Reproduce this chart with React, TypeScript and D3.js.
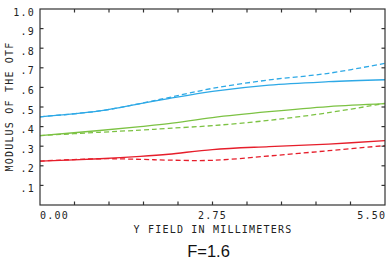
import { useEffect, useRef } from "react";
import * as d3 from "d3";

// field positions (mm) where curves were read
const fieldMm = [0, 0.95, 1.6, 2.05, 2.75, 3.65, 4.6, 5.5];

const blueSolid = [0.45, 0.48, 0.517, 0.543, 0.58, 0.612, 0.629, 0.639];
const blueDashed = [0.45, 0.48, 0.518, 0.548, 0.595, 0.638, 0.672, 0.723];
const greenSolid = [0.354, 0.38, 0.4, 0.415, 0.446, 0.476, 0.502, 0.517];
const greenDashed = [0.354, 0.371, 0.382, 0.391, 0.405, 0.432, 0.471, 0.519];
const redSolid = [0.224, 0.236, 0.248, 0.259, 0.283, 0.298, 0.311, 0.328];
const redDashed = [0.224, 0.236, 0.233, 0.229, 0.228, 0.25, 0.277, 0.303];

const yTickLabels = ["1.0", ".9", ".8", ".7", ".6", ".5", ".4", ".3", ".2", ".1"];
const yTickValues = [1.0, 0.9, 0.8, 0.7, 0.6, 0.5, 0.4, 0.3, 0.2, 0.1];
const xTickLabels = ["0.00", "2.75", "5.50"];
const xTickLabelValues = [0, 2.75, 5.5];

const series = [
  { values: blueSolid, color: "#2ea9e6", dashed: false },
  { values: blueDashed, color: "#2ea9e6", dashed: true },
  { values: greenSolid, color: "#7cc243", dashed: false },
  { values: greenDashed, color: "#7cc243", dashed: true },
  { values: redSolid, color: "#e61e2b", dashed: false },
  { values: redDashed, color: "#e61e2b", dashed: true },
];

const App = () => {
  const ref = useRef<SVGSVGElement>(null);

  useEffect(() => {
    const svg = d3.select(ref.current);
    svg.selectAll("*").remove();

    const left = 40, right = 385, top = 9, bottom = 205;
    const x = d3.scaleLinear().domain([0, 5.5]).range([left, right]);
    const y = d3.scaleLinear().domain([0, 1]).range([bottom, top]);
    const font = "'DejaVu Sans Mono', monospace";
    const axisColor = "#333";

    // curves
    const line = d3
      .line<number>()
      .x((d, i) => x(fieldMm[i]))
      .y((d) => y(d))
      .curve(d3.curveCatmullRom.alpha(0.5));

    series.forEach((s) => {
      svg
        .append("path")
        .attr("d", line(s.values))
        .attr("fill", "none")
        .attr("stroke", s.color)
        .attr("stroke-width", 1.3)
        .attr("stroke-dasharray", s.dashed ? "5,3" : null);
    });

    // frame
    svg
      .append("rect")
      .attr("x", left)
      .attr("y", top)
      .attr("width", right - left)
      .attr("height", bottom - top)
      .attr("fill", "none")
      .attr("stroke", axisColor)
      .attr("stroke-width", 1.2);

    // inward ticks
    const tickLen = 3.5;
    const xTicks = d3.range(1, 10).map((i) => i * 0.55);
    const yTicks = d3.range(1, 10).map((i) => i * 0.1);
    const g = svg.append("g").attr("stroke", axisColor).attr("stroke-width", 1.2);
    xTicks.forEach((t) => {
      g.append("line").attr("x1", x(t)).attr("x2", x(t)).attr("y1", top).attr("y2", top + tickLen);
      g.append("line").attr("x1", x(t)).attr("x2", x(t)).attr("y1", bottom).attr("y2", bottom - tickLen);
    });
    yTicks.forEach((t) => {
      g.append("line").attr("x1", left).attr("x2", left + tickLen).attr("y1", y(t)).attr("y2", y(t));
      g.append("line").attr("x1", right).attr("x2", right - tickLen).attr("y1", y(t)).attr("y2", y(t));
    });

    // y tick labels
    svg
      .append("g")
      .selectAll("text")
      .data(yTickLabels)
      .join("text")
      .attr("x", 35)
      .attr("y", (d, i) => y(yTickValues[i]) + 6.5)
      .attr("text-anchor", "end")
      .attr("font-family", font)
      .attr("font-size", 10)
      .attr("letter-spacing", 1.2)
      .attr("fill", "#222")
      .text((d) => d);

    // x tick labels
    svg
      .append("g")
      .selectAll("text")
      .data(xTickLabels)
      .join("text")
      .attr("x", (d, i) => x(xTickLabelValues[i]) + (i === 2 ? 1.2 : 0))
      .attr("y", 219)
      .attr("text-anchor", (d, i) => (i === 0 ? "start" : i === 1 ? "middle" : "end"))
      .attr("font-family", font)
      .attr("font-size", 10)
      .attr("letter-spacing", 1.2)
      .attr("fill", "#222")
      .text((d) => d);

    // axis titles
    svg
      .append("text")
      .attr("x", 213)
      .attr("y", 232.5)
      .attr("text-anchor", "middle")
      .attr("font-family", font)
      .attr("font-size", 10)
      .attr("letter-spacing", 1.2)
      .attr("fill", "#222")
      .text("Y FIELD IN MILLIMETERS");

    svg
      .append("text")
      .attr("transform", "translate(12.6, 106.5) rotate(-90)")
      .attr("text-anchor", "middle")
      .attr("font-family", font)
      .attr("font-size", 10)
      .attr("letter-spacing", 1.2)
      .attr("fill", "#222")
      .text("MODULUS OF THE OTF");

    svg
      .append("text")
      .attr("x", 208.5)
      .attr("y", 257)
      .attr("text-anchor", "middle")
      .attr("font-family", "'Liberation Sans', Arial, sans-serif")
      .attr("font-size", 16.5)
      .attr("fill", "#111")
      .text("F=1.6");
  }, []);

  return (
    <svg
      ref={ref}
      width={387}
      height={264}
      style={{ position: "absolute", left: 0, top: 0, background: "#fff" }}
    />
  );
};

export default App;
